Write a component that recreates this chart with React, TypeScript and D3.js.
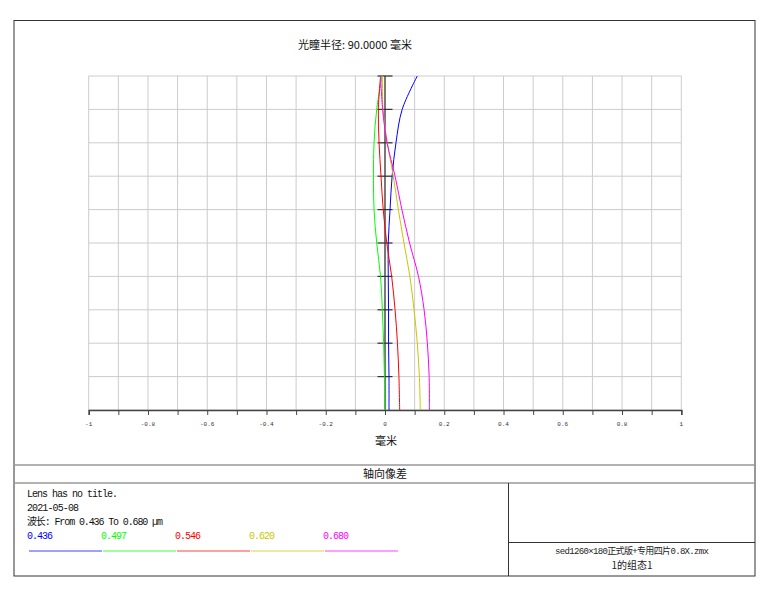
import { useEffect, useRef } from 'react';
import * as d3 from 'd3';

// normalised pupil coordinate (vertical axis)
const pupil = [0, 0.1, 0.2, 0.3, 0.4, 0.5, 0.6, 0.7, 0.8, 0.9, 1.0];

// longitudinal aberration (mm) for each wavelength, read at each pupil step
const shift436 = [0.0135, 0.0135, 0.012, 0.012, 0.011, 0.011, 0.017, 0.024, 0.037, 0.058, 0.109];
const shift497 = [-0.001, -0.002, -0.0045, -0.009, -0.015, -0.028, -0.037, -0.039, -0.037, -0.028, -0.01];
const shift546 = [0.0495, 0.047, 0.042, 0.034, 0.0225, 0.006, -0.006, -0.0135, -0.02, -0.0225, -0.015];
const shift620 = [0.119, 0.116, 0.109, 0.098, 0.084, 0.064, 0.045, 0.028, 0.008, -0.007, -0.008];
const shift680 = [0.15, 0.149, 0.143, 0.132, 0.113, 0.083, 0.057, 0.034, 0.007, -0.008, -0.015];

const wavelengths = ['0.436', '0.497', '0.546', '0.620', '0.680'];
const seriesValues = [shift436, shift497, shift546, shift620, shift680];
const colors = ['#0000ff', '#00ff00', '#ff0000', '#c8c800', '#ff00ff'];

const xTicks = [-1, -0.9, -0.8, -0.7, -0.6, -0.5, -0.4, -0.3, -0.2, -0.1, 0, 0.1, 0.2, 0.3, 0.4, 0.5, 0.6, 0.7, 0.8, 0.9, 1];
const xTickLabels = ['-1', '-0.8', '-0.6', '-0.4', '-0.2', '0', '0.2', '0.4', '0.6', '0.8', '1'];

const titleText = '光瞳半径: 90.0000 毫米';
const xLabel = '毫米';
const chartName = '轴向像差';
const infoLines = ['Lens has no title.', '2021-05-08', '波长: From 0.436 To 0.680 µm'];
const fileName = 'sed1260×180正式版+专用四片0.8X.zmx';
const configName = '1的组态1';

const mono = '"Liberation Mono", "Noto Sans CJK SC", monospace';
const cjk = '"Noto Sans CJK SC", "DejaVu Sans", sans-serif';

export default function App() {
	const ref = useRef<SVGSVGElement | null>(null);

	useEffect(() => {
		if (!ref.current) return;
		const svg = d3.select(ref.current);
		svg.selectAll('*').remove();

		const left = 88.7;
		const right = 681.3;
		const top = 76;
		const bottom = 410;

		const x = d3.scaleLinear().domain([-1, 1]).range([left, right]);
		const y = d3.scaleLinear().domain([0, 1]).range([bottom, top]);

		svg.append('rect').attr('width', 775).attr('height', 600).attr('fill', '#fff');

		// grid
		const grid = svg.append('g').attr('stroke', '#cccccc').attr('stroke-width', 1);
		xTicks.forEach(t => {
			grid.append('line')
				.attr('x1', x(t)).attr('x2', x(t))
				.attr('y1', top).attr('y2', bottom);
		});
		pupil.forEach(p => {
			grid.append('line')
				.attr('x1', left).attr('x2', right)
				.attr('y1', y(p)).attr('y2', y(p));
		});

		// bottom axis
		const axis = svg.append('g')
			.attr('transform', `translate(0, ${bottom})`)
			.call(d3.axisBottom(x).tickValues(xTicks).tickSize(5).tickFormat(() => ''));
		axis.select('.domain').attr('stroke', '#444').attr('stroke-width', 1.5);
		axis.selectAll('line').attr('stroke', '#444');

		svg.append('g')
			.selectAll('text')
			.data(xTickLabels)
			.join('text')
			.attr('x', d => x(+d))
			.attr('y', 426)
			.attr('text-anchor', 'middle')
			.attr('font-family', mono)
			.attr('font-size', 6)
			.attr('fill', '#333')
			.text(d => d);

		// centre axis with pupil ticks
		svg.append('line')
			.attr('x1', x(0)).attr('x2', x(0))
			.attr('y1', top).attr('y2', bottom)
			.attr('stroke', '#555').attr('stroke-width', 1.5);
		svg.append('g')
			.selectAll('line')
			.data(pupil.slice(1))
			.join('line')
			.attr('x1', x(0) - 7.5).attr('x2', x(0) + 7.5)
			.attr('y1', d => y(d)).attr('y2', d => y(d))
			.attr('stroke', '#333').attr('stroke-width', 1.2);

		// curves
		const line = d3.line<number>()
			.x(d => x(d))
			.y((_, i) => y(pupil[i]))
			.curve(d3.curveCatmullRom);

		seriesValues.forEach((vals, i) => {
			svg.append('path')
				.datum(vals)
				.attr('fill', 'none')
				.attr('stroke', colors[i])
				.attr('stroke-width', 1)
				.attr('d', line);
		});

		// title & axis label
		svg.append('text')
			.attr('x', 298).attr('y', 49)
			.attr('font-family', cjk).attr('font-size', 11)
			.attr('textLength', 114)
			.attr('fill', '#111')
			.text(titleText);
		svg.append('text')
			.attr('x', x(0) + 1).attr('y', 445)
			.attr('text-anchor', 'middle')
			.attr('font-family', cjk).attr('font-size', 11)
			.attr('fill', '#111')
			.text(xLabel);

		// frame and info boxes
		svg.append('rect')
			.attr('x', 14).attr('y', 20.5)
			.attr('width', 741).attr('height', 555.5)
			.attr('fill', 'none').attr('stroke', '#333').attr('stroke-width', 1);
		[465, 483].forEach(v => {
			svg.append('line')
				.attr('x1', 14).attr('x2', 755)
				.attr('y1', v).attr('y2', v)
				.attr('stroke', '#999').attr('stroke-width', 1.5);
		});
		svg.append('text')
			.attr('x', x(0)).attr('y', 478)
			.attr('text-anchor', 'middle')
			.attr('font-family', cjk).attr('font-size', 11)
			.attr('fill', '#111')
			.text(chartName);
		svg.append('line')
			.attr('x1', 508.5).attr('x2', 508.5)
			.attr('y1', 483).attr('y2', 576)
			.attr('stroke', '#333');
		svg.append('line')
			.attr('x1', 508.5).attr('x2', 755)
			.attr('y1', 542.5).attr('y2', 542.5)
			.attr('stroke', '#333');
		svg.append('text')
			.attr('x', 632).attr('y', 554)
			.attr('text-anchor', 'middle')
			.attr('font-family', mono).attr('font-size', 9)
			.attr('textLength', 154)
			.attr('fill', '#222')
			.text(fileName);
		svg.append('text')
			.attr('x', 632).attr('y', 569)
			.attr('text-anchor', 'middle')
			.attr('font-family', cjk).attr('font-size', 10)
			.attr('fill', '#222')
			.text(configName);

		const infoWidths = [91, 52, 136];
		infoLines.forEach((t, i) => {
			svg.append('text')
				.attr('x', 27).attr('y', 497 + i * 14)
				.attr('font-family', mono).attr('font-size', 10)
				.attr('textLength', infoWidths[i])
				.attr('fill', '#111')
				.text(t);
		});

		// legend
		const legendX = d3.scaleBand<string>().domain(wavelengths).range([27, 397]);
		wavelengths.forEach((w, i) => {
			svg.append('text')
				.attr('x', legendX(w)!).attr('y', 539)
				.attr('font-family', mono).attr('font-size', 10)
				.attr('textLength', 26)
				.attr('fill', colors[i])
				.text(w);
			svg.append('line')
				.attr('x1', legendX(w)! + 2).attr('x2', legendX(w)! + legendX.bandwidth() + 1)
				.attr('y1', 551).attr('y2', 551)
				.attr('stroke', colors[i]).attr('stroke-width', 1)
				.attr('stroke-opacity', 0.75);
		});
	}, []);

	return (
		<svg
			ref={ref}
			width={775}
			height={600}
			style={{ position: 'absolute', left: 0, top: 0 }}
		/>
	);
}
